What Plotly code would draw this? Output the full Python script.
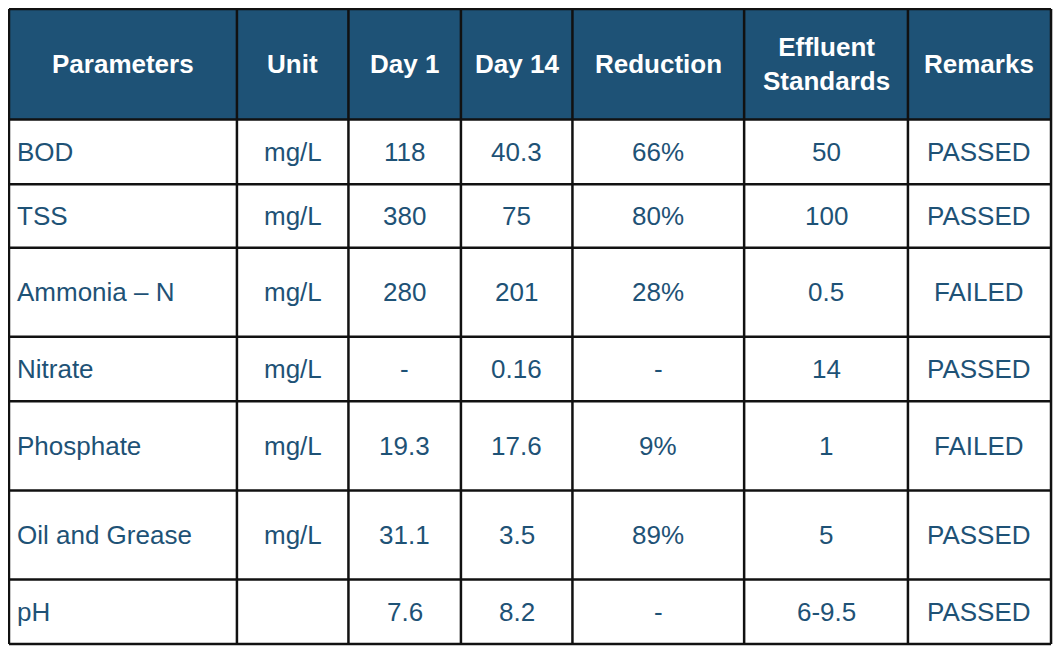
#!/usr/bin/env python3
"""
Effluent test results table rebuilt with Plotly
(heatmap for cell fills, shapes for grid lines, annotations for text)
"""

import plotly.graph_objects as go

# table content
headers = ["Parameters", "Unit", "Day 1", "Day 14", "Reduction", "Effluent<br>Standards", "Remarks"]
parameters = ["BOD", "TSS", "Ammonia – N", "Nitrate", "Phosphate", "Oil and Grease", "pH"]
units = ["mg/L", "mg/L", "mg/L", "mg/L", "mg/L", "mg/L", ""]
day1 = ["118", "380", "280", "-", "19.3", "31.1", "7.6"]
day14 = ["40.3", "75", "201", "0.16", "17.6", "3.5", "8.2"]
reduction = ["66%", "80%", "28%", "-", "9%", "89%", "-"]
standards = ["50", "100", "0.5", "14", "1", "5", "6-9.5"]
remarks = ["PASSED", "PASSED", "FAILED", "PASSED", "FAILED", "PASSED", "PASSED"]

# layout of the grid (pixel-like units)
col_edges = [2, 233, 346, 460, 573, 747, 913, 1058]
row_edges = [2, 115, 181, 246, 337, 403, 494, 585, 651]

BLUE = "#1E5276"
FONT = "Liberation Sans, Arial, Helvetica, sans-serif"
FONT_SIZE = 26

columns = [parameters, units, day1, day14, reduction, standards, remarks]
n_cols = len(columns)

# 0 = header fill, 1 = body fill
z = [[0] * n_cols] + [[1] * n_cols for _ in parameters]

fig = go.Figure()

fig.add_trace(
    go.Heatmap(
        x=col_edges,
        y=row_edges,
        z=z,
        zmin=0,
        zmax=1,
        colorscale=[[0, BLUE], [1, "#FFFFFF"]],
        showscale=False,
        hoverinfo="skip",
    )
)

# grid lines
line = dict(color="#111111", width=2.5)
for xe in col_edges:
    fig.add_shape(type="line", x0=xe, x1=xe, y0=row_edges[0], y1=row_edges[-1],
                  xref="x", yref="y", line=line)
for ye in row_edges:
    fig.add_shape(type="line", x0=col_edges[0], x1=col_edges[-1], y0=ye, y1=ye,
                  xref="x", yref="y", line=line)

# text
annotations = []
for c in range(n_cols):
    xc = (col_edges[c] + col_edges[c + 1]) / 2
    yc = (row_edges[0] + row_edges[1]) / 2
    annotations.append(
        dict(x=xc, y=yc, xref="x", yref="y", text=headers[c], showarrow=False,
             xanchor="center", yanchor="middle",
             font=dict(family=FONT, size=FONT_SIZE, color="#FFFFFF", weight="bold"))
    )
    for r, val in enumerate(columns[c]):
        yc = (row_edges[r + 1] + row_edges[r + 2]) / 2
        if c == 0:
            x, anchor = col_edges[0] + 6, "left"
        else:
            x, anchor = xc, "center"
        annotations.append(
            dict(x=x, y=yc, xref="x", yref="y", text=val, showarrow=False,
                 xanchor=anchor, yanchor="middle",
                 font=dict(family=FONT, size=FONT_SIZE, color=BLUE))
        )

# the page body adds 8px around the figure, so keep it inside the window
fig.update_layout(
    width=1045,
    height=638,
    margin=dict(l=0, r=0, t=0, b=0),
    paper_bgcolor="#FFFFFF",
    plot_bgcolor="#FFFFFF",
    annotations=annotations,
    xaxis=dict(range=[1, 1060], visible=False, fixedrange=True),
    yaxis=dict(range=[653, 1], visible=False, fixedrange=True),
    showlegend=False,
)

fig.write_html("out.html")
